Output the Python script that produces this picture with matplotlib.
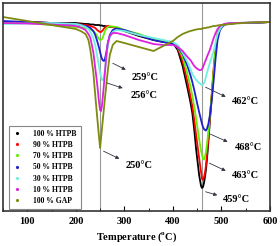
import numpy as np
import matplotlib.pyplot as plt
from matplotlib.lines import Line2D

plt.rcParams['font.family'] = ['Liberation Serif', 'DejaVu Serif']
plt.rcParams['font.weight'] = 'bold'
plt.rcParams['mathtext.fontset'] = 'custom'
plt.rcParams['mathtext.rm'] = 'Liberation Serif:bold'
plt.rcParams['mathtext.bf'] = 'Liberation Serif:bold'

# temperature grid (C) shared by all DTG curves
temp = [50, 100, 150, 200, 210, 220, 226, 230, 236, 240, 244, 248, 250, 252, 254,
        256, 258, 260, 263, 266, 270, 276, 284, 300, 330, 360, 380, 400, 410, 420,
        430, 436, 440, 444, 448, 454, 458, 460, 462, 464, 466, 468, 470, 473, 476,
        480, 484, 488, 492, 497, 503, 510, 530, 560, 600]

# DTG signal (arbitrary units, down = mass loss)
htpb100 = [22, 22, 23, 23, 23.5, 24, 24, 24.5, 24.5, 25, 25, 25, 25.5, 25.5, 25.5,
           26, 26, 26, 26.5, 26.5, 27, 27, 28, 31, 36, 40, 42, 43, 50, 66,
           88, 102, 113, 130, 150, 175, 186, 188, 187, 183, 177, 170, 160, 142, 122,
           97, 72, 50, 36, 28, 25, 24, 23, 23, 22]
htpb90 = [22, 22, 23, 24, 24.5, 25, 25.5, 26, 27, 28, 30, 31.5, 32, 32, 31,
          30, 28.5, 27.5, 26.5, 26, 26.5, 27, 28, 30.5, 35, 39, 41, 43, 48, 61,
          82, 96, 106, 120, 136, 158, 172, 179, 180, 177, 173, 166, 156, 138, 118,
          94, 68, 47, 33, 27, 25, 24, 23, 23, 22]
htpb70 = [23, 23, 25, 27, 27.5, 28, 28.5, 29, 31, 33, 36, 39, 40, 40, 39,
          37, 34, 31, 28.5, 27, 26.5, 26.5, 27, 30, 34, 39, 41, 43, 47, 57,
          74, 86, 96, 107, 119, 139, 151, 155, 159, 159.5, 157, 152, 145, 132, 116,
          95, 70, 48, 34, 27, 25, 24, 23, 23, 22]
htpb50 = [21, 22, 23, 24, 25, 26, 27, 28, 31, 35, 41, 48, 52, 56, 59,
          60.5, 61, 59, 52, 43, 35, 30, 28.5, 30, 35, 40, 42, 44, 47, 54,
          66, 75, 82, 90, 99, 112, 120, 124, 127, 129, 130, 130.5, 129, 124, 116,
          100, 80, 58, 40, 30, 26, 24, 23, 23, 22]
htpb30 = [24, 23.5, 23, 24, 25, 27, 29, 32, 38, 45, 56, 67, 73, 77, 80,
          80, 77, 70, 57, 45, 37, 32, 30, 31, 35, 38, 40, 42, 45, 53,
          62, 69, 74, 77, 80, 83, 84.5, 85, 84.5, 83, 81, 77, 73, 68, 63,
          57, 51, 42, 34, 29, 25, 24, 23, 22.5, 22]
htpb10 = [23, 23.5, 24.5, 26, 27.5, 30, 34, 38, 52, 68, 84, 103, 110, 111, 105,
          95, 84, 72, 55, 43, 36, 33, 33, 35, 40, 44, 45, 45, 47, 51,
          57, 60, 63, 66, 68, 70, 70, 69, 67, 64.5, 62, 59.5, 57, 53.5, 50,
          44, 38, 33, 29, 26, 24.5, 23.5, 23, 22.5, 22]
gap100 = [17, 21, 25, 29, 31, 34, 40, 50, 72, 95, 117, 138, 148, 138, 128,
          118, 108, 98, 84, 70, 55, 45, 41, 43, 47, 51, 46, 41, 37, 34,
          32, 31, 30.5, 30, 29.5, 29, 29, 28.5, 28.5, 28, 28, 28, 27.5, 27.5, 27,
          26.5, 26, 26, 25.5, 25, 25, 24.5, 23.5, 22.5, 22]

labels = ['100 % HTPB', '90 % HTPB', '70 % HTPB', '50 % HTPB', '30 % HTPB', '10 % HTPB', '100 % GAP']
colors = ['#000000', '#ff0000', '#66ee00', '#2020d0', '#70f0e0', '#dd22dd', '#7f8a10']
series = [htpb100, htpb90, htpb70, htpb50, htpb30, htpb10, gap100]

# peak labels: text, curve point, arrow head, text position
peak_text = ['259°C', '256°C', '250°C', '462°C', '468°C', '463°C', '459°C']
peak_from = [(271, 62), (258, 82), (252, 150), (462, 86), (472, 133), (470, 162), (462, 191)]
peak_to = [(308, 71), (302, 89), (295, 160), (514, 98), (518, 143), (514, 172), (497, 196)]
peak_pos = [(314, 77), (312, 96), (302, 165), (522, 101), (528, 148), (522, 175), (503, 199)]

fig = plt.figure(figsize=(2.8, 2.46), dpi=100)
ax = fig.add_axes([3/280, 35/246, 267/280, 208/246])

for y, c in zip(series, colors):
    ax.plot(temp, -np.array(y), color=c, lw=1.3)

ax.axvline(250, color='#999999', lw=0.8, zorder=0)
ax.axvline(459, color='#999999', lw=0.8, zorder=0)

for t, a, b, p in zip(peak_text, peak_from, peak_to, peak_pos):
    ax.annotate('', xy=(b[0], -b[1]), xytext=(a[0], -a[1]),
                arrowprops=dict(arrowstyle='-|>', color='#334', lw=0.6, mutation_scale=5))
    ax.text(p[0], -p[1], t, fontsize=7.5, fontweight='bold', ha='left', va='center')

ax.set_xlim(50, 600)
ax.set_ylim(-211, -3)
ax.set_xticks([100, 200, 300, 400, 500, 600])
ax.set_xticks(np.arange(50, 601, 50), minor=True)
ax.set_yticks([])
ax.tick_params(axis='x', which='both', direction='in', labelsize=7.5, pad=4.5)
ax.tick_params(axis='x', which='major', length=3.5)
ax.tick_params(axis='x', which='minor', length=2.5)
for s in ax.spines.values():
    s.set_color('#333333')
    s.set_linewidth(1.2)
ax.set_xlabel(r'Temperature ($^{\mathrm{o}}$C)', fontsize=7.5, fontweight='bold', labelpad=3)

handles = [Line2D([], [], color=c, marker='.', markersize=2.5, linestyle='none') for c in colors]
leg = ax.legend(handles, labels, loc='upper left', bbox_to_anchor=(0.022, 0.409), borderaxespad=0,
                prop=dict(family='Liberation Serif', weight='bold', size=5.5),
                fancybox=False, framealpha=1, edgecolor='#888888', handlelength=1.2,
                handletextpad=1.5, labelspacing=0.42, borderpad=0.5)
leg.get_frame().set_linewidth(0.8)

plt.savefig('out.png', dpi=100)
